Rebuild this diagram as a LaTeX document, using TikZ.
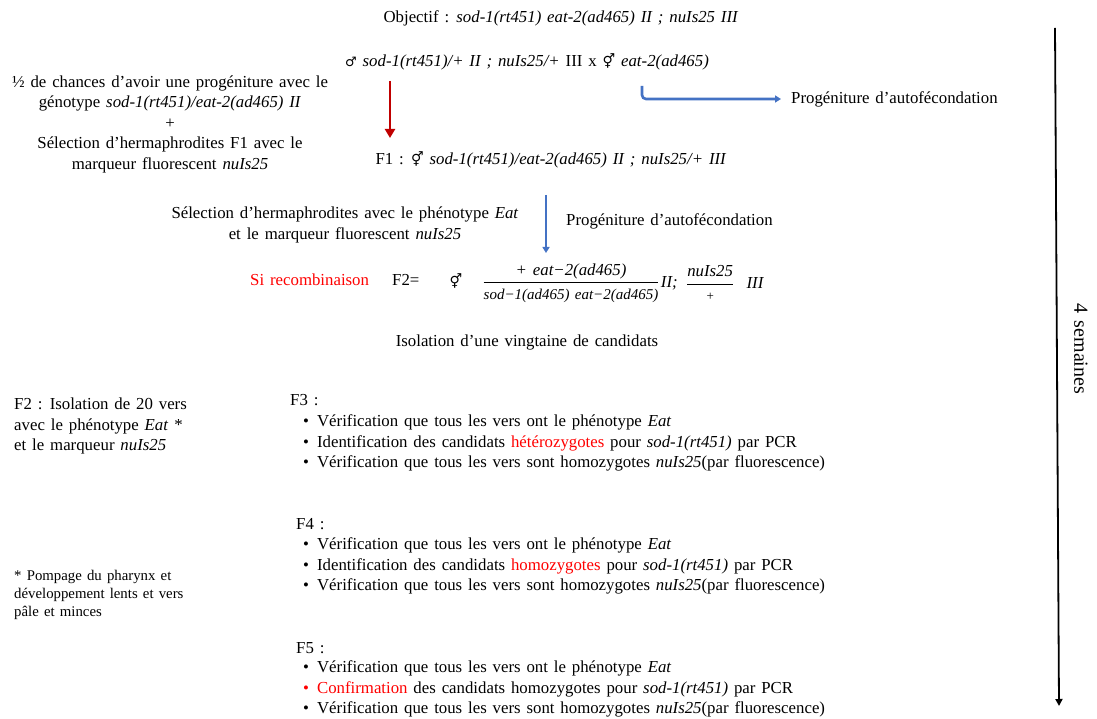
\documentclass[tikz,border=0pt]{standalone}
\usepackage{fontspec}
\usepackage{amsmath}
\setmainfont{Liberation Serif}[WordSpace=1.4]
\newfontfamily\symf{DejaVu Sans}
\usetikzlibrary{arrows.meta,positioning}
\definecolor{arrowred}{HTML}{C00000}
\definecolor{arrowblue}{HTML}{4472C4}
\definecolor{txtred}{HTML}{FF0000}
\newcommand{\gn}[1]{\textit{#1}}
\newcommand{\msym}{{\symf\fontsize{13}{13}\selectfont\char"2642}}
\newcommand{\hsym}{{\symf\fontsize{14}{14}\selectfont\char"26A5}}
\newcommand{\hl}[1]{\textcolor{txtred}{#1}}
\newcommand{\itm}{\textbullet\hspace{8pt}}

\begin{document}
\begin{tikzpicture}[x=1pt, y=-1pt, font=\fontsize{16.8}{20.5}\selectfont,
  txt/.style={inner sep=0pt, align=center},
  ltxt/.style={inner sep=0pt, align=left, anchor=west},
  redarrow/.style={draw=arrowred, line width=2.4pt, -{Triangle[width=10pt,length=9pt]}},
  bluearrow/.style={draw=arrowblue, line width=2.6pt, -{Triangle[width=7pt,length=6pt]}},
  timearrow/.style={draw=black, line width=1.8pt, -{Triangle[width=7pt,length=7pt]}}]
  \useasboundingbox (0,0) rectangle (1097,719);

  % crossing
  \node[txt] (goal) at (561,18) {Objectif : \gn{sod-1(rt451) eat-2(ad465) II ; nuIs25 III}};
  \node[txt] (cross) at (527,62) {\msym\ \gn{sod-1(rt451)/+ II ; nuIs25/+} III x \hsym\ \gn{eat-2(ad465)}};
  \node[txt] (chance) at (170,124) {½ de chances d’avoir une progéniture avec le\\
    génotype \gn{sod-1(rt451)/eat-2(ad465) II}\\+\\
    Sélection d’hermaphrodites F1 avec le\\marqueur fluorescent \gn{nuIs25}};
  \node[ltxt] (prog1) at (791,99) {Progéniture d’autofécondation};
  \node[txt] (f1) at (551,160) {F1 : \hsym\ \gn{sod-1(rt451)/eat-2(ad465) II ; nuIs25/+ III}};

  \coordinate (r1) at (390,81);
  \coordinate (r2) at (390,138);
  \coordinate (b1) at (642,86);
  \draw[redarrow] (r1) -- (r2);
  \draw[bluearrow, rounded corners=4pt] (b1) |- ([xshift=-10pt]prog1.west);

  % F2
  \node[txt] (sel) at (345,225) {Sélection d’hermaphrodites avec le phénotype \gn{Eat}\\
    et le marqueur fluorescent \gn{nuIs25}};
  \node[ltxt] (prog2) at (566,221) {Progéniture d’autofécondation};
  \coordinate (b2) at (546,195);
  \coordinate (b3) at (546,253);
  \draw[bluearrow] (b2) -- (b3);

  \node[ltxt, text=txtred] (recomb) at (250,280) {Si recombinaison};
  \node[ltxt] (f2) at (392,280) {F2=};
  \node[txt] (f2sym) at (456,281) {\hsym};
  \node[txt] (frac1) at (571,283) {$\displaystyle\frac{\text{\itshape + eat−2(ad465)}}%
    {\text{\fontsize{15}{16}\selectfont\itshape sod−1(ad465) eat−2(ad465)}}$};
  \node[ltxt, right=1pt of frac1] (chr2) {\gn{II;}};
  \node[txt, right=8pt of chr2] (frac2) {$\displaystyle\frac{\text{\itshape nuIs25}}%
    {\text{\fontsize{13}{14}\selectfont +}}$};
  \node[ltxt, right=12pt of frac2] (chr3) {\gn{III}};
  \node[txt] (isol) at (527,342) {Isolation d’une vingtaine de candidats};

  % left notes
  \node[ltxt] (f2note) at (14,426) {F2 : Isolation de 20 vers\\avec le phénotype \gn{Eat} *\\
    et le marqueur \gn{nuIs25}};
  \node[ltxt, font=\fontsize{14.8}{18}\selectfont] (star) at (14,595) {* Pompage du pharynx et\\
    développement lents et vers\\pâle et minces};

  % F3 - F5
  \node[ltxt] (f3) at (290,400) {F3 :};
  \node[ltxt] (f3l) at (303,443) {\itm Vérification que tous les vers ont le phénotype \gn{Eat}\\
    \itm Identification des candidats \hl{hétérozygotes} pour \gn{sod-1(rt451)} par PCR\\
    \itm Vérification que tous les vers sont homozygotes \gn{nuIs25}(par fluorescence)};
  \node[ltxt] (f4) at (296,524) {F4 :};
  \node[ltxt] (f4l) at (303,566) {\itm Vérification que tous les vers ont le phénotype \gn{Eat}\\
    \itm Identification des candidats \hl{homozygotes} pour \gn{sod-1(rt451)} par PCR\\
    \itm Vérification que tous les vers sont homozygotes \gn{nuIs25}(par fluorescence)};
  \node[ltxt] (f5) at (296,648) {F5 :};
  \node[ltxt] (f5l) at (303,689) {\itm Vérification que tous les vers ont le phénotype \gn{Eat}\\
    \hl{\itm Confirmation} des candidats homozygotes pour \gn{sod-1(rt451)} par PCR\\
    \itm Vérification que tous les vers sont homozygotes \gn{nuIs25}(par fluorescence)};

  % time line
  \coordinate (t1) at (1055,28);
  \coordinate (t2) at (1059,706);
  \draw[timearrow] (t1) -- (t2);
  \node[txt, rotate=-90, font=\fontsize{20}{24}\selectfont] (weeks) at (1081,349) {4 semaines};
\end{tikzpicture}
\end{document}
